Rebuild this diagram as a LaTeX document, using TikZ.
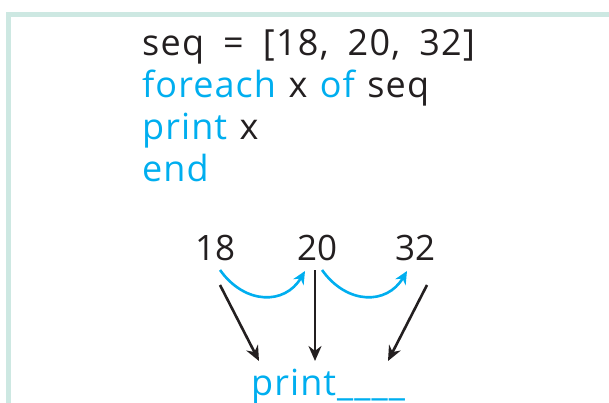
\documentclass[tikz,border=0pt]{standalone}
\usepackage{fontspec}
\setmainfont{Open Sans}
\newfontfamily\codefont[LetterSpace=3,WordSpace=1.2]{Open Sans}
\newfontfamily\listfont[LetterSpace=3.5,WordSpace=1.8]{Open Sans}
\usetikzlibrary{arrows.meta}
\definecolor{frame}{HTML}{CDE8E2}
\definecolor{kw}{HTML}{00AEEF}
\definecolor{ink}{HTML}{231F20}
\tikzset{
  code/.style={anchor=base west, inner sep=0pt, text=ink, font=\codefont\fontsize{36}{40}\selectfont},
  listline/.style={code, font=\listfont\fontsize{36}{40}\selectfont},
  num/.style={anchor=base west, inner sep=0pt, text=ink, font=\fontsize{35}{40}\selectfont},
  hop/.style={kw, line width=2.6pt, -{Stealth[length=13pt,width=12pt]}},
  feed/.style={ink, line width=2.6pt, -{Stealth[length=15pt,width=13pt]}},
}
\begin{document}
\begin{tikzpicture}[x=1pt,y=-1pt]
\useasboundingbox (0,0) rectangle (609,403);
\fill[frame] (6,12) rectangle (609,17.5);
\fill[frame] (6,12) rectangle (11,403);
\node[listline] (l1) at (142,56) {seq = [18, 20, 32]};
\node[code] (l2) at (142,98) {\textcolor{kw}{foreach} x \textcolor{kw}{of} seq};
\node[code] (l3) at (142,140) {\textcolor{kw}{print} x};
\node[code] (l4) at (142,182) {\textcolor{kw}{end}};
\node[num] (n18) at (195,260) {18};
\node[num] (n20) at (297,260) {20};
\node[num] (n32) at (395,260) {32};
\node[code, text=kw] (pr) at (251,395) {print\_\_\_\_};
\coordinate (h1s) at (220,270);
\coordinate (h1e) at (305,271);
\coordinate (h2s) at (322,270);
\coordinate (h2e) at (407,271);
\draw[hop] (h1s) .. controls (245,305) and (285,305) .. (h1e);
\draw[hop] (h2s) .. controls (347,305) and (387,305) .. (h2e);
\coordinate (a1s) at (220,285);
\coordinate (a1e) at (259,361);
\coordinate (a2s) at (315,270);
\coordinate (a2e) at (315,361);
\coordinate (a3s) at (427,285);
\coordinate (a3e) at (388,361);
\draw[feed] (a1s) -- (a1e);
\draw[feed] (a2s) -- (a2e);
\draw[feed] (a3s) -- (a3e);
\end{tikzpicture}
\end{document}
